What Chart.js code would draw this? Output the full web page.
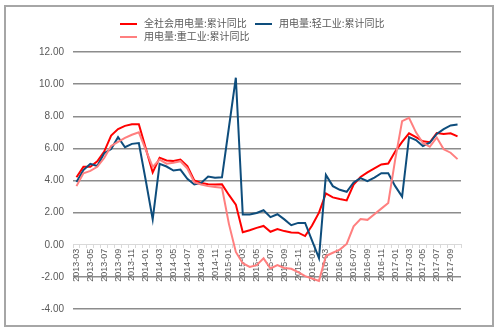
<!DOCTYPE html>
<html>
<head>
<meta charset="utf-8">
<script src="https://cdn.jsdelivr.net/npm/chart.js@4.4.0/dist/chart.umd.min.js"></script>
<style>
  html, body { margin: 0; padding: 0; background: #fff; }
  #wrap { position: relative; width: 499px; height: 331px; overflow: hidden; }
  #frame { position: absolute; left: 4px; top: 5px; width: 486px; height: 318px; border: 2px solid #a6a6a6; }
  #chart { position: absolute; left: 0; top: 0; }
  .lg { position: absolute; font: 10px "Noto Sans CJK SC", sans-serif; color: #595959; white-space: nowrap; line-height: 13px; }
  .lg i { display: inline-block; width: 17px; height: 2px; vertical-align: middle; margin-right: 7px; }
</style>
</head>
<body>
<div id="wrap">
  <div id="frame"></div>
  <canvas id="chart" width="499" height="331"></canvas>
  <div id="legend"></div>
</div>
<script>
// months on the x axis (every other one gets a label)
const months = [
  "2013-03","2013-04","2013-05","2013-06","2013-07","2013-08","2013-09","2013-10","2013-11","2013-12",
  "2014-01","2014-02","2014-03","2014-04","2014-05","2014-06","2014-07","2014-08","2014-09","2014-10","2014-11","2014-12",
  "2015-01","2015-02","2015-03","2015-04","2015-05","2015-06","2015-07","2015-08","2015-09","2015-10","2015-11","2015-12",
  "2016-01","2016-02","2016-03","2016-04","2016-05","2016-06","2016-07","2016-08","2016-09","2016-10","2016-11","2016-12",
  "2017-01","2017-02","2017-03","2017-04","2017-05","2017-06","2017-07","2017-08","2017-09","2017-10"
];

// 全社会用电量:累计同比
const totalUse = [
  4.2, 4.85, 4.85, 5.2, 5.8, 6.8, 7.2, 7.4, 7.5, 7.5,
  6.0, 4.5, 5.42, 5.25, 5.22, 5.3, 4.9, 4.0, 3.85, 3.77, 3.75, 3.76,
  3.1, 2.5, 0.78, 0.9, 1.05, 1.17, 0.81, 0.98, 0.85, 0.77, 0.75, 0.54,
  1.2, 2.0, 3.2, 2.95, 2.85, 2.76, 3.75, 4.22, 4.5, 4.75, 5.0, 5.06,
  5.8, 6.4, 6.94, 6.7, 6.44, 6.38, 6.96, 6.9, 6.94, 6.75
];

// 用电量:轻工业:累计同比
const lightInd = [
  3.9, 4.65, 5.04, 4.9, 5.7, 5.96, 6.7, 6.07, 6.28, 6.33,
  4.0, 1.58, 5.04, 4.87, 4.62, 4.68, 4.1, 3.75, 3.85, 4.25, 4.17, 4.2,
  7.3, 10.4, 1.88, 1.88, 1.98, 2.15, 1.72, 1.9, 1.58, 1.22, 1.36, 1.36,
  0.25, -0.83, 4.35, 3.65, 3.42, 3.3, 3.88, 4.15, 3.96, 4.18, 4.45, 4.45,
  3.65, 3.0, 6.7, 6.52, 6.15, 6.35, 6.9, 7.2, 7.43, 7.48
];

// 用电量:重工业:累计同比
const heavyInd = [
  3.65, 4.45, 4.6, 4.85, 5.4, 6.15, 6.4, 6.65, 6.85, 7.0,
  5.9, 4.85, 5.3, 5.05, 5.1, 5.2, 4.75, 3.9, 3.75, 3.65, 3.6, 3.55,
  1.3, -0.45, -1.15, -1.38, -1.27, -0.85, -1.48, -1.27, -1.45, -1.5, -1.7, -1.95,
  -2.1, -2.25, -0.7, -0.5, -0.3, 0.05, 1.15, 1.6, 1.55, 1.9, 2.25, 2.6,
  5.3, 7.7, 7.9, 7.0, 6.33, 6.1, 6.68, 5.94, 5.73, 5.33
];

const yMin = -4, yMax = 12, yStep = 2;

const series = [
  { label: "全社会用电量:累计同比", data: totalUse, color: "#ff0000", order: 3 },
  { label: "用电量:轻工业:累计同比", data: lightInd, color: "#0e4d7c", order: 2 },
  { label: "用电量:重工业:累计同比", data: heavyInd, color: "#ff7f7f", order: 1 }
];

// legend, laid out like the original (two rows, left aligned)
const legendSpots = [[120, 16], [255, 16], [120, 29]];
const legend = document.getElementById("legend");
series.forEach((s, i) => {
  const d = document.createElement("div");
  d.className = "lg";
  d.style.left = legendSpots[i][0] + "px";
  d.style.top = legendSpots[i][1] + "px";
  d.innerHTML = `<i style="background:${s.color}"></i>${s.label}`;
  legend.appendChild(d);
});

new Chart(document.getElementById("chart"), {
  type: "line",
  data: {
    labels: months,
    datasets: series.map(s => ({
      label: s.label,
      data: s.data,
      borderColor: s.color,
      backgroundColor: s.color,
      borderWidth: 2,
      pointRadius: 0,
      tension: 0,
      order: s.order
    }))
  },
  options: {
    responsive: false,
    animation: false,
    layout: { padding: { left: 30, right: 38, top: 52, bottom: 22 } },
    plugins: {
      legend: { display: false },
      tooltip: { enabled: false }
    },
    scales: {
      x: {
        position: { y: 0 },
        offset: true,
        ticks: {
          autoSkip: false,
          minRotation: 90,
          maxRotation: 90,
          padding: 1,
          color: "#595959",
          font: { family: "'Liberation Sans', Arial, sans-serif", size: 9 },
          callback: (v, i) => i % 2 === 0 ? months[i] : ""
        },
        grid: { offset: true, drawOnChartArea: false, drawTicks: true, tickLength: 3, color: "#d9d9d9" },
        border: { display: true, color: "#d9d9d9", width: 1 }
      },
      y: {
        min: yMin,
        max: yMax,
        ticks: {
          stepSize: yStep,
          padding: 9,
          color: "#595959",
          font: { family: "'Liberation Sans', Arial, sans-serif", size: 10 },
          callback: v => v.toFixed(2)
        },
        grid: {
          drawTicks: false,
          lineWidth: 1.5,
          color: c => c.tick && c.tick.value === 0 ? "rgba(0,0,0,0)" : "#8c8c8c"
        },
        border: { display: false }
      }
    }
  }
});
</script>
</body>
</html>
